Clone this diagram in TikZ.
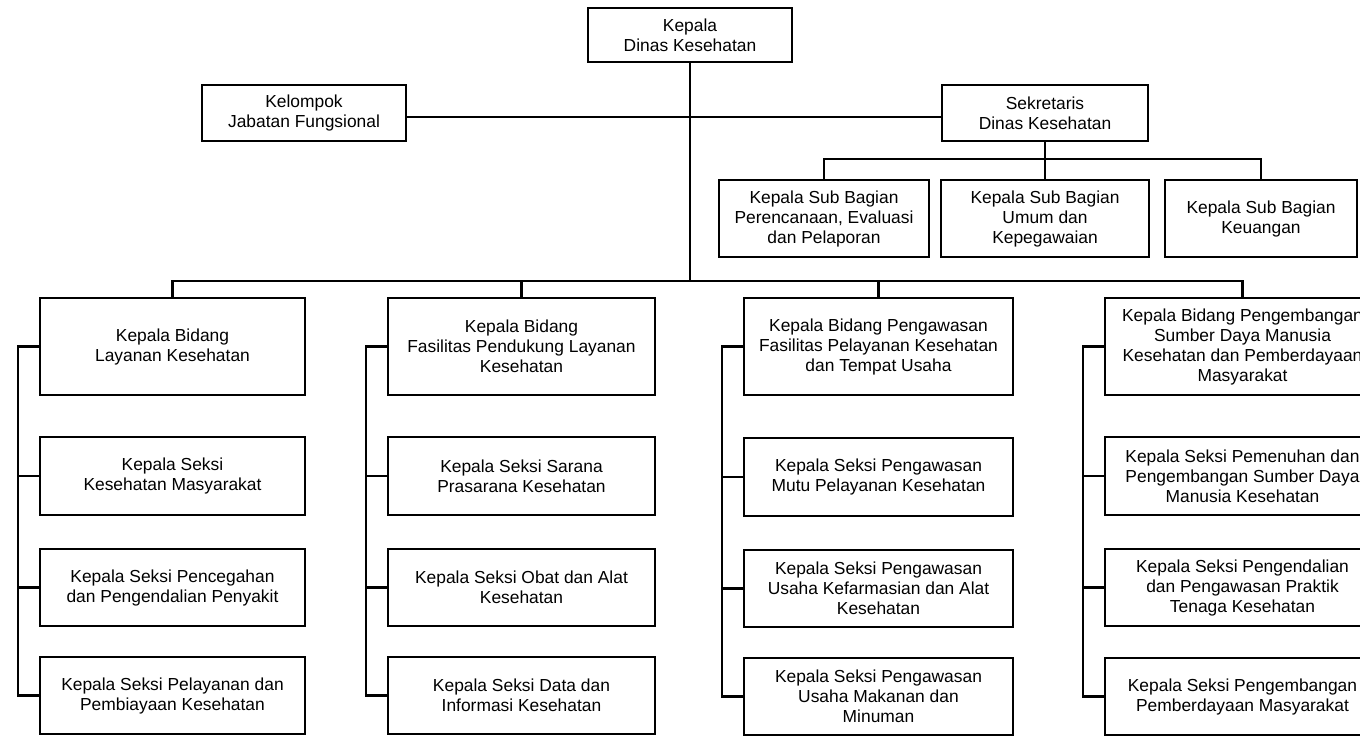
\documentclass[tikz,border=0pt]{standalone}
\usepackage{fontspec}
\setmainfont{Liberation Sans}

\begin{document}
\begin{tikzpicture}[x=1pt,y=-1pt]

    \tikzstyle{box} = [draw, line width=2.2pt, align=center, inner sep=0pt,
                       font=\fontsize{17.4}{20}\selectfont]
    \tikzstyle{wire} = [line width=2.2pt]

    \useasboundingbox (0,0) rectangle (1360,736);
    \clip (0,0) rectangle (1360,736);

    % Kepala dan sekretariat
    \node[box, minimum width=204, minimum height=54] (kadis) at (690,35)
        {Kepala\\Dinas Kesehatan};
    \node[box, minimum width=204, minimum height=56] (kel) at (304,113)
        {Kelompok\\Jabatan Fungsional};
    \node[box, minimum width=206, minimum height=56] (sek) at (1045,113)
        {Sekretaris\\Dinas Kesehatan};

    \node[box, minimum width=210, minimum height=77] (sub1) at (824,218.5)
        {Kepala Sub Bagian\\Perencanaan, Evaluasi\\dan Pelaporan};
    \node[box, minimum width=208, minimum height=77] (sub2) at (1045,218.5)
        {Kepala Sub Bagian\\Umum dan\\Kepegawaian};
    \node[box, minimum width=192, minimum height=77] (sub3) at (1261,218.5)
        {Kepala Sub Bagian\\Keuangan};

    % Bidang
    \node[box, minimum width=265, minimum height=97] (bid1) at (172.5,346.5)
        {Kepala Bidang\\Layanan Kesehatan};
    \node[box, minimum width=267, minimum height=97] (bid2) at (521.5,346.5)
        {Kepala Bidang\\Fasilitas Pendukung Layanan\\Kesehatan};
    \node[box, minimum width=269, minimum height=97] (bid3) at (878.5,346.5)
        {Kepala Bidang Pengawasan\\Fasilitas Pelayanan Kesehatan\\dan Tempat Usaha};
    \node[box, minimum width=275, minimum height=97] (bid4) at (1242.5,346.5)
        {Kepala Bidang Pengembangan\\Sumber Daya Manusia\\Kesehatan dan Pemberdayaan\\Masyarakat};

    % Seksi, kolom 1
    \node[box, minimum width=265, minimum height=78] (sek11) at (172.5,476)
        {Kepala Seksi\\Kesehatan Masyarakat};
    \node[box, minimum width=265, minimum height=77] (sek12) at (172.5,587.5)
        {Kepala Seksi Pencegahan\\dan Pengendalian Penyakit};
    \node[box, minimum width=265, minimum height=77] (sek13) at (172.5,695.5)
        {Kepala Seksi Pelayanan dan\\Pembiayaan Kesehatan};

    % Seksi, kolom 2
    \node[box, minimum width=267, minimum height=78] (sek21) at (521.5,476)
        {Kepala Seksi Sarana\\Prasarana Kesehatan};
    \node[box, minimum width=267, minimum height=77] (sek22) at (521.5,587.5)
        {Kepala Seksi Obat dan Alat\\Kesehatan};
    \node[box, minimum width=267, minimum height=77] (sek23) at (521.5,695.5)
        {Kepala Seksi Data dan\\Informasi Kesehatan};

    % Seksi, kolom 3
    \node[box, minimum width=269, minimum height=78] (sek31) at (878.5,477)
        {Kepala Seksi Pengawasan\\Mutu Pelayanan Kesehatan};
    \node[box, minimum width=269, minimum height=77] (sek32) at (878.5,588.5)
        {Kepala Seksi Pengawasan\\Usaha Kefarmasian dan Alat\\Kesehatan};
    \node[box, minimum width=269, minimum height=77] (sek33) at (878.5,696.5)
        {Kepala Seksi Pengawasan\\Usaha Makanan dan\\Minuman};

    % Seksi, kolom 4
    \node[box, minimum width=275, minimum height=78] (sek41) at (1242.5,476)
        {Kepala Seksi Pemenuhan dan\\Pengembangan Sumber Daya\\Manusia Kesehatan};
    \node[box, minimum width=275, minimum height=77] (sek42) at (1242.5,587.5)
        {Kepala Seksi Pengendalian\\dan Pengawasan Praktik\\Tenaga Kesehatan};
    \node[box, minimum width=275, minimum height=77] (sek43) at (1242.5,696.5)
        {Kepala Seksi Pengembangan\\Pemberdayaan Masyarakat};

    % Garis komando
    \coordinate (bus) at (690,281);
    \coordinate (subbus) at (1045,159);

    \draw[wire] (kadis.south) -- (bus);
    \draw[wire] ([yshift=-4pt]kel.east) -- ([yshift=-4pt]sek.west);
    \draw[wire] (sek.south) -- (subbus);
    \draw[wire] (sub1.north) |- (subbus) -| (sub3.north);
    \draw[wire] (sub2.north) -- (subbus);

    \draw[wire] (bid1.north) |- (bus) -| (bid4.north);
    \draw[wire] (bid2.north) -- (bid2.north |- bus);
    \draw[wire] (bid3.north) -- (bid3.north |- bus);

    % Tulang kolom
    \foreach \c in {1,2,3,4}{
        \draw[wire] (bid\c.west) -- ++(-21,0) coordinate (sp\c) |- (sek\c3.west);
        \draw[wire] (sp\c) |- (sek\c1.west);
        \draw[wire] (sp\c) |- (sek\c2.west);
    }

\end{tikzpicture}
\end{document}
